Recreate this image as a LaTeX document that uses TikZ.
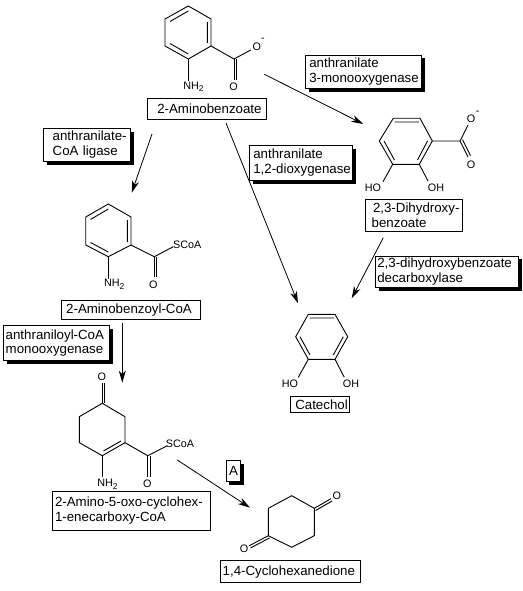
\documentclass[tikz,border=0pt]{standalone}
\usepackage{fontspec}
\setmainfont{Liberation Sans}
\usetikzlibrary{arrows.meta,shadows}
\newcommand{\ind}[1]{\hspace*{#1pt}}
\tikzset{
  bond/.style={line width=0.9pt,line join=miter},
  rxn/.style={line width=0.8pt,-{Stealth[length=12pt,width=7pt,inset=3.5pt]}},
  atom/.style={font=\fontsize{10.8}{12}\selectfont,inner sep=0pt,outer sep=0pt},
  namebox/.style={draw=black,line width=0.9pt,fill=white,anchor=north west,align=left,
    inner xsep=0pt,inner ysep=0pt,outer sep=0pt,
    font=\fontsize{13.3}{14.8}\selectfont},
  enzbox/.style={namebox,drop shadow={shadow xshift=3.3pt,shadow yshift=-3.3pt,fill=black,opacity=1}}
}
\begin{document}
\begin{tikzpicture}[x=1pt,y=-1pt]
\useasboundingbox (0,0) rectangle (522,591);
% named arrow ends
\coordinate (a1s) at (264.3,74.3); \coordinate (a1e) at (363.3,124);
\coordinate (a2s) at (226,123);    \coordinate (a2e) at (298,303.3);
\coordinate (a3s) at (152,134);    \coordinate (a3e) at (131.7,192.7);
\coordinate (a4s) at (383.3,237.7);\coordinate (a4e) at (351.7,298.3);
\coordinate (a5s) at (122.3,323.3);\coordinate (a5e) at (122.3,382.7);
\coordinate (a6s) at (177.3,460);  \coordinate (a6e) at (250,507.7);
% arrows
\draw[rxn] (a1s) -- (a1e);
\draw[rxn] (a2s) -- (a2e);
\draw[rxn] (a3s) -- (a3e);
\draw[rxn] (a4s) -- (a4e);
\draw[rxn] (a5s) -- (a5e);
\draw[rxn] (a6s) -- (a6e);
% 2-aminobenzoate
\draw[bond] (188.3,6) -- (211,19) -- (211,46) -- (188.3,59) -- (165,46) -- (165,19) -- cycle;
\draw[bond] (170,21.5) -- (188.3,11) (207.3,22) -- (207.3,43) (170,43.5) -- (188.3,54);
\draw[bond] (211,46) -- (234,59) -- (250.7,50);
\draw[bond] (234,59) -- (234,80) (236.3,59) -- (236.3,80);
\draw[bond] (188.3,59) -- (188.3,81);
\node[atom] (o1) at (256.7,47) {O};
\node[atom] (m1) at (263,40) {-};
\node[atom] (o2) at (233.5,86.5) {O};
\node[atom] (n1) at (193.5,87) {NH\raisebox{-2.5pt}{\fontsize{8.5}{9}\selectfont 2}};
% 2,3-dihydroxybenzoate
\draw[bond] (393.3,118.3) -- (420,118.3) -- (432.3,141) -- (419.3,164.3) -- (392.7,164.3) -- (379.3,141) -- cycle;
\draw[bond] (394.5,122) -- (419,122) (384,141) -- (394.5,160) (427.5,141) -- (417.5,160);
\draw[bond] (432.3,141) -- (460,141) -- (468,125);
\draw[bond] (460,141) -- (468,157) (462.5,139.7) -- (470.5,155.7);
\draw[bond] (392.7,164.3) -- (383,181.7) (419.3,164.3) -- (428,181);
\node[atom] (o3) at (471,119) {O};
\node[atom] (m2) at (477.7,112.5) {-};
\node[atom] (o4) at (471,165) {O};
\node[atom] (h1) at (373,187.7) {HO};
\node[atom] (h2) at (436,187.7) {OH};
% catechol
\draw[bond] (308.3,314.3) -- (335,314.3) -- (347.7,336.7) -- (335,359.3) -- (308.3,359.3) -- (295.7,336.7) -- cycle;
\draw[bond] (309.5,318) -- (334,318) (300,336.7) -- (310,355) (343.3,336.7) -- (333.3,355);
\draw[bond] (308.3,359.3) -- (298.3,377.3) (335,359.3) -- (344.3,377.3);
\node[atom] (h3) at (290,383.3) {HO};
\node[atom] (h4) at (351,383.3) {OH};
% 2-aminobenzoyl-CoA
\draw[bond] (108.3,204) -- (131,217) -- (131,245) -- (108.3,256.7) -- (85.7,245) -- (85.7,217) -- cycle;
\draw[bond] (90.5,219.5) -- (108.3,209) (127.3,220) -- (127.3,242) (90.5,242.5) -- (108.3,252);
\draw[bond] (131,245) -- (154.3,256.7) -- (173.3,246.7);
\draw[bond] (154.3,256.7) -- (154.3,277) (156.6,256.7) -- (156.6,277);
\draw[bond] (108.3,256.7) -- (108.3,279);
\node[atom] (s1) at (187.3,245) {SCoA};
\node[atom] (o5) at (153.3,284.3) {O};
\node[atom] (n2) at (114.3,284.3) {NH\raisebox{-2.5pt}{\fontsize{8.5}{9}\selectfont 2}};
% 2-amino-5-oxo-cyclohexenecarboxy-CoA
\draw[bond] (102.3,403.3) -- (125,416.7) -- (125,442.7) -- (102.3,455.7) -- (79.3,442.7) -- (79.3,416.7) -- cycle;
\draw[bond] (103.5,451) -- (121,441);
\draw[bond] (102.3,403.3) -- (102.3,382.7) (104.6,403.3) -- (104.6,382.7);
\draw[bond] (125,442.7) -- (147.7,455.7) -- (166.7,446);
\draw[bond] (147.7,455.7) -- (147.7,476.7) (150,455.7) -- (150,476.7);
\draw[bond] (102.3,455.7) -- (102.3,477.3);
\node[atom] (o6) at (101.7,376.7) {O};
\node[atom] (s2) at (180,443.3) {SCoA};
\node[atom] (o7) at (147.3,483.5) {O};
\node[atom] (n3) at (107.5,484.5) {NH\raisebox{-2.5pt}{\fontsize{8.5}{9}\selectfont 2}};
% 1,4-cyclohexanedione
\draw[bond] (291.7,495.7) -- (314.3,508.3) -- (314.3,535.7) -- (291.7,547.3) -- (268.3,535.7) -- (268.3,508.3) -- cycle;
\draw[bond] (314.3,508.3) -- (331,498.7) (315.6,510.5) -- (332.3,500.9);
\draw[bond] (268.3,535.7) -- (249.3,545.7) (269.6,537.9) -- (250.6,547.9);
\node[atom] (o8) at (336.7,495.7) {O};
\node[atom] (o9) at (244,548.3) {O};
% boxes
\node[namebox,text width=119.4pt,minimum height=21pt] (b1) at (147.3,98.3) {\ind{10}2-Aminobenzoate};
\node[enzbox,text width=116.4pt,minimum height=33.3pt] (b2) at (305.3,55) {\ind{4}anthranilate\\\ind{4}3-monooxygenase};
\node[namebox,text width=97.4pt,minimum height=32.4pt] (b3) at (365.3,199.3) {\ind{7.7}2,3-Dihydroxy-\\\ind{6.4}benzoate};
\node[namebox,text width=59pt,minimum height=15.6pt] (b4) at (290.3,396.7) {\ind{5}Catechol};
\node[enzbox,text width=87.4pt,minimum height=33pt] (b5) at (43.3,128.3) {\ind{9.4}anthranilate-\\\ind{9.4}CoA ligase};
\node[namebox,text width=139pt,minimum height=18.7pt] (b6) at (61.7,300.3) {\ind{4.5}2-Aminobenzoyl-CoA};
\node[enzbox,text width=106pt,minimum height=35.4pt] (b7) at (3.3,325.3) {\ind{2.4}anthraniloyl-CoA\\\ind{2.4}monooxygenase};
\node[namebox,text width=158.4pt,minimum height=39pt] (b8) at (52.3,491) {\ind{2.7}2-Amino-5-oxo-cyclohex-\\\ind{2.7}1-enecarboxy-CoA};
\node[enzbox,text width=14.7pt,minimum height=21pt] (b9) at (226,460.7) {\ind{3}A};
\node[namebox,text width=139.3pt,minimum height=22pt] (b10) at (220.7,560.7) {\ind{2}1,4-Cyclohexanedione};
\node[enzbox,text width=103pt,minimum height=35pt] (b11) at (249.3,145.3) {\ind{4}anthranilate\\\ind{4}1,2-dioxygenase};
\node[enzbox,text width=143.4pt,minimum height=31.3pt] (b12) at (375.3,256) {\ind{2}2,3-dihydroxybenzoate\\\ind{2}decarboxylase};
\end{tikzpicture}
\end{document}
